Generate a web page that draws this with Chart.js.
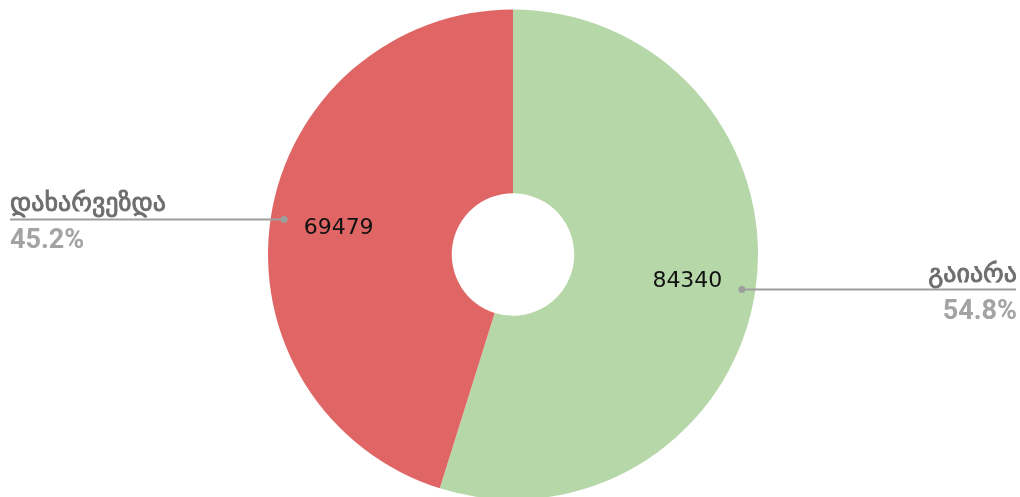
<!DOCTYPE html>
<html>
<head>
<meta charset="utf-8">
<script src="https://cdn.jsdelivr.net/npm/chart.js@4"></script>
<style>
  html, body { margin: 0; padding: 0; background: #fff; overflow: hidden; }
  #wrap { width: 1020px; height: 502px; position: relative; }
</style>
</head>
<body>
<div id="wrap"><canvas id="donut"></canvas></div>
<script>
const labels = ["გაიარა", "დახარვეზდა"];
const values = [84340, 69479];
const colors = ["#b6d7a8", "#e06666"];

const total = values.reduce((a, b) => a + b, 0);

// leader lines, category names and percentages outside the ring
const calloutPlugin = {
  id: "callouts",
  afterDatasetsDraw(chart) {
    const ctx = chart.ctx;
    const meta = chart.getDatasetMeta(0);
    meta.data.forEach((arc, i) => {
      const p = arc.getProps(["x", "y", "startAngle", "endAngle", "outerRadius"], true);
      const mid = (p.startAngle + p.endAngle) / 2;
      const cos = Math.cos(mid), sin = Math.sin(mid);

      // value inside the slice
      const vr = p.outerRadius * 0.72;
      ctx.save();
      ctx.font = "22px 'DejaVu Sans', sans-serif";
      ctx.fillStyle = "#111";
      ctx.textAlign = "center";
      ctx.textBaseline = "middle";
      ctx.fillText(String(values[i]), p.x + cos * vr, p.y + sin * vr);

      // dot and horizontal leader
      const dr = p.outerRadius * 0.945;
      const dx = p.x + cos * dr, dy = p.y + sin * dr;
      const right = cos >= 0;
      const endX = right ? 1016 : 10;
      ctx.strokeStyle = "#9e9e9e";
      ctx.lineWidth = 2;
      ctx.beginPath();
      ctx.moveTo(dx, dy);
      ctx.lineTo(endX, dy);
      ctx.stroke();
      ctx.fillStyle = "#9e9e9e";
      ctx.beginPath();
      ctx.arc(dx, dy, 3.5, 0, Math.PI * 2);
      ctx.fill();

      // category name above the line (slightly heavier than regular), share below it
      ctx.textAlign = right ? "right" : "left";
      ctx.textBaseline = "alphabetic";
      const tx = right ? 1017 : 10;
      ctx.font = "26px 'DejaVu Sans', sans-serif";
      ctx.fillStyle = "#6e6e6e";
      ctx.strokeStyle = "#6e6e6e";
      ctx.lineWidth = 0.9;
      ctx.fillText(labels[i], tx, dy - 8);
      ctx.strokeText(labels[i], tx, dy - 8);
      ctx.font = "bold 27px Roboto, sans-serif";
      ctx.fillStyle = "#a3a3a3";
      ctx.fillText((values[i] / total * 100).toFixed(1) + "%", tx, dy + 29);
      ctx.restore();
    });
  }
};

new Chart(document.getElementById("donut"), {
  type: "doughnut",
  data: {
    labels: labels,
    datasets: [{
      data: values,
      backgroundColor: colors,
      borderWidth: 0,
      hoverOffset: 0
    }]
  },
  options: {
    responsive: true,
    maintainAspectRatio: false,
    animation: false,
    cutout: "25%",
    layout: { padding: { top: 9.5, bottom: 2.5, left: 6, right: 0 } },
    plugins: {
      legend: { display: false },
      tooltip: { enabled: false }
    }
  },
  plugins: [calloutPlugin]
});
</script>
</body>
</html>
